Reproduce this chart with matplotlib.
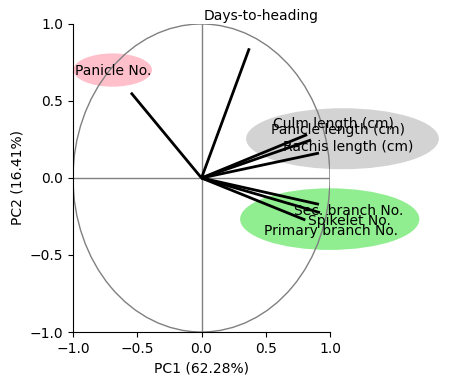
import matplotlib
matplotlib.use("Agg")
import matplotlib.pyplot as plt
from matplotlib.patches import Ellipse, Circle
import numpy as np

traits = ["Days-to-heading", "Panicle No.", "Culm length (cm)", "Panicle length (cm)",
          "Rachis length (cm)", "Sec. branch No.", "Spikelet No.", "Primary branch No."]
pc1 = [0.372, -0.549, 0.822, 0.852, 0.914, 0.914, 0.922, 0.808]
pc2 = [0.842, 0.554, 0.282, 0.247, 0.162, -0.171, -0.225, -0.273]

groups = ["Panicle", "Length", "Branch"]
group_center_x = [-0.691, 1.097, 0.998]
group_center_y = [0.701, 0.255, -0.267]
group_width = [0.612, 1.50, 1.395]
group_height = [0.216, 0.396, 0.40]
group_colors = ["pink", "lightgray", "lightgreen"]

label_scale = 1.25

fig = plt.figure(figsize=(4.68, 3.85), dpi=100)
ax = fig.add_axes([73/468, 1-332/385, (330-73)/468, (332-24)/385])

for cx, cy, w, h, c in zip(group_center_x, group_center_y, group_width, group_height, group_colors):
    ax.add_patch(Ellipse((cx, cy), w, h, facecolor=c, edgecolor="none", zorder=1, clip_on=False))

ax.add_patch(Circle((0, 0), 1.0, facecolor="none", edgecolor="gray", lw=1, zorder=2))
ax.axhline(0, color="gray", lw=1, zorder=2)
ax.axvline(0, color="gray", lw=1, zorder=2)

for name, x, y in zip(traits, pc1, pc2):
    ax.plot([0, x], [0, y], color="k", lw=2, zorder=3, solid_capstyle="butt")
    ax.text(x*label_scale, y*label_scale, name, ha="center", va="center",
            fontsize=10, zorder=4, clip_on=False)

ax.set_xlim(-1, 1)
ax.set_ylim(-1, 1)
ax.set_xticks([-1.0, -0.5, 0.0, 0.5, 1.0])
ax.set_yticks([-1.0, -0.5, 0.0, 0.5, 1.0])
ax.spines["top"].set_visible(False)
ax.spines["right"].set_visible(False)
ax.set_xlabel("PC1 (62.28%)")
ax.set_ylabel("PC2 (16.41%)")

fig.savefig("out.png", dpi=100)
